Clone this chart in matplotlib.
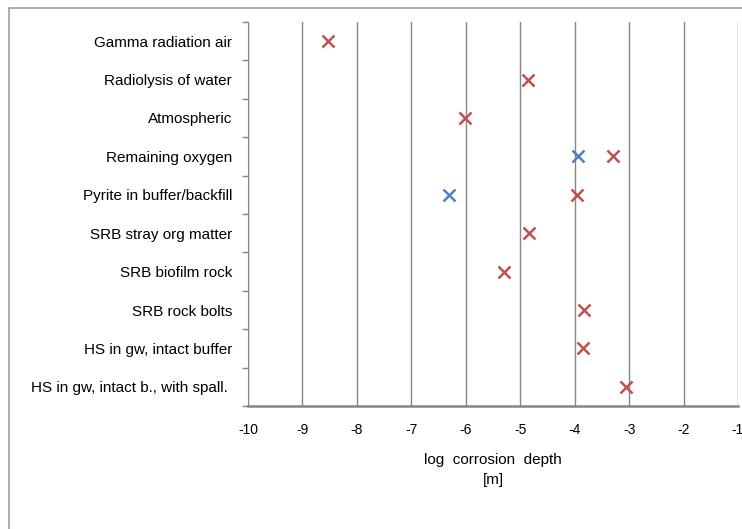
import matplotlib
matplotlib.use('Agg')
import matplotlib.pyplot as plt
from matplotlib.patches import Rectangle

# categories top to bottom
categories = ['Gamma radiation air', 'Radiolysis of water', 'Atmospheric',
              'Remaining oxygen', 'Pyrite in buffer/backfill', 'SRB stray org matter',
              'SRB biofilm rock', 'SRB rock bolts', 'HS in gw, intact buffer',
              'HS in gw, intact b., with spall. ']

# red series (one value per category)
red_vals = [-8.53, -4.86, -6.02, -3.30, -3.96, -4.83, -5.30, -3.82, -3.85, -3.05]

# blue series (only two categories)
blue_cats = ['Remaining oxygen', 'Pyrite in buffer/backfill']
blue_vals = [-3.93, -6.31]

xticks = [-10, -9, -8, -7, -6, -5, -4, -3, -2, -1]

plt.rcParams['font.family'] = ['Liberation Sans', 'DejaVu Sans']

fig = plt.figure(figsize=(7.42, 5.29), dpi=100)
ax = fig.add_axes([248 / 742, 1 - 406 / 529, 490 / 742, 384 / 529])

# outer chart border (cut off at right and bottom)
fig.patches.append(Rectangle((8.5 / 742, -0.2), 1.2, 0.2 + 1 - 7.5 / 529,
                             transform=fig.transFigure, fill=False,
                             edgecolor='#a0a0a0', linewidth=1.2))

n = len(categories)
ypos = {c: n - 1 - i for i, c in enumerate(categories)}

ax.plot(red_vals, [ypos[c] for c in categories], linestyle='none', marker='x',
        color='#C0504D', markersize=8.5, markeredgewidth=1.8, clip_on=False)
ax.plot(blue_vals, [ypos[c] for c in blue_cats], linestyle='none', marker='x',
        color='#4F81BD', markersize=8.5, markeredgewidth=1.8, clip_on=False)

ax.set_xlim(-10, -1)
ax.set_ylim(-0.5, n - 0.5)
ax.set_xticks(xticks)
ax.set_xticklabels([str(t) for t in xticks], fontsize=10)
ax.xaxis.grid(True, color='#868686', linewidth=1.0)
ax.set_axisbelow(True)

ax.set_yticks([ypos[c] for c in categories])
ax.set_yticklabels(categories, fontsize=11)
ax.set_yticks([i - 0.5 for i in range(n + 1)], minor=True)
ax.tick_params(axis='y', which='major', length=0, pad=11.5)
ax.tick_params(axis='y', which='minor', length=4, color='#868686', width=1.0)
ax.tick_params(axis='x', length=0, pad=12)

for s in ['top', 'right']:
    ax.spines[s].set_visible(False)
ax.spines['left'].set_color('#868686')
ax.spines['bottom'].set_color('#868686')
ax.spines['bottom'].set_linewidth(1.8)

ax.set_xlabel('log  corrosion  depth\n[m]', fontsize=11, labelpad=12, linespacing=1.5)

fig.savefig('out.png', dpi=100)
